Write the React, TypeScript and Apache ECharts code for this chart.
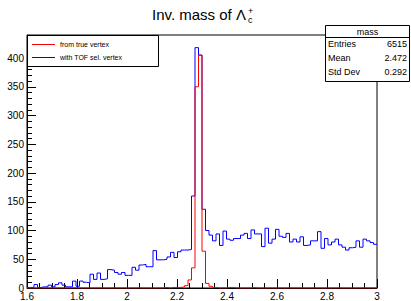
import React, { useEffect, useRef } from "react";
import * as echarts from "echarts";

// Histogram binning (100 bins from 1.6 to 3.0)
const binLow = 1.6;
const binWidth = 0.014;

// "with TOF sel. vertex" (blue)
const blueCounts = [
  1, 1, 6, 1, 2, 2, 5, 2, 6, 9,
  5, 2, 2, 12, 3, 12, 10, 9, 24, 15,
  26, 15, 16, 32, 31, 27, 24, 27, 22, 22,
  36, 31, 40, 41, 37, 37, 65, 49, 49, 50,
  54, 62, 53, 63, 66, 66, 67, 160, 418, 405,
  137, 100, 92, 82, 94, 74, 99, 85, 83, 86,
  86, 92, 95, 86, 101, 94, 94, 72, 104, 78,
  85, 102, 90, 88, 95, 80, 85, 80, 89, 74,
  75, 82, 82, 98, 69, 86, 75, 80, 85, 75,
  71, 66, 70, 71, 82, 71, 85, 82, 79, 76,
];

// "from true vertex" (red)
const redCounts = [
  0, 0, 0, 0, 0, 0, 0, 0, 0, 0,
  0, 0, 0, 0, 0, 0, 0, 0, 0, 0,
  0, 0, 0, 0, 0, 0, 0, 0, 0, 0,
  0, 0, 0, 0, 0, 0, 0, 0, 0, 1,
  0, 1, 1, 1, 2, 4, 14, 35, 350, 405,
  64, 8, 3, 1, 0, 0, 0, 1, 1, 0,
  0, 0, 0, 0, 1, 0, 0, 0, 0, 0,
  0, 0, 0, 0, 0, 0, 0, 0, 0, 0,
  0, 0, 0, 0, 0, 0, 0, 0, 0, 0,
  0, 0, 0, 0, 0, 0, 0, 0, 0, 0,
];

const legendLabels = ["from true vertex", "with TOF sel. vertex"];
const statsTitle = "mass";
const statsNames = ["Entries", "Mean", "Std Dev"];
const statsValues = ["6515", "2.472", "0.292"];

const xMin = 1.6;
const xMax = 3.0;
const xInterval = 0.2;
const yMin = 0;
const yMax = 440;
const yInterval = 50;

const FONT = "'Liberation Sans', Arial, Helvetica, sans-serif";

function toSteps(counts: number[]): number[][] {
  const pts: number[][] = [];
  for (let i = 0; i < counts.length; i++) {
    pts.push([binLow + i * binWidth, counts[i]]);
  }
  pts.push([binLow + counts.length * binWidth, counts[counts.length - 1]]);
  return pts;
}

export default function App() {
  const ref = useRef<HTMLDivElement>(null);

  useEffect(() => {
    if (!ref.current) return;
    const chart = echarts.init(ref.current, null, { renderer: "svg" });
    const gl = 27, gt = 35, gr = 377, gb = 289;

    const option: any = {
      animation: false,
      backgroundColor: "#ffffff",
      grid: {
        left: gl,
        top: gt,
        right: 411 - gr,
        bottom: 301 - gb,
        show: true,
        borderColor: "#000",
        borderWidth: 1,
        backgroundColor: "transparent",
      },
      xAxis: {
        type: "value",
        min: xMin,
        max: xMax,
        interval: xInterval,
        axisLine: { show: true, onZero: false, lineStyle: { color: "#000", width: 1 } },
        axisTick: { show: true, inside: true, length: 9, lineStyle: { color: "#000" } },
        minorTick: { show: true, splitNumber: 4, length: 5, lineStyle: { color: "#000" } },
        splitLine: { show: false },
        axisLabel: {
          margin: 3,
          fontSize: 10,
          fontFamily: FONT,
          color: "#000",
          formatter: (v: number) => String(Math.round(v * 10) / 10),
        },
      },
      yAxis: {
        type: "value",
        min: yMin,
        max: yMax,
        interval: yInterval,
        axisLine: { show: true, onZero: false, lineStyle: { color: "#000", width: 1 } },
        axisTick: { show: true, inside: true, length: 9, lineStyle: { color: "#000" } },
        minorTick: { show: true, splitNumber: 5, length: 5, lineStyle: { color: "#000" } },
        splitLine: { show: false },
        axisLabel: {
          margin: 3,
          fontSize: 10,
          fontFamily: FONT,
          color: "#000",
          formatter: (v: number) => (Math.round(v) % yInterval === 0 ? String(Math.round(v)) : ""),
        },
      },
      series: [
        {
          name: legendLabels[1],
          type: "line",
          step: "end",
          data: toSteps(blueCounts),
          showSymbol: false,
          symbol: "none",
          lineStyle: { color: "#0000ff", width: 1 },
          z: 3,
        },
        {
          name: legendLabels[0],
          type: "line",
          step: "end",
          data: toSteps(redCounts),
          showSymbol: false,
          symbol: "none",
          lineStyle: { color: "#ff0000", width: 1 },
          z: 4,
        },
      ],
      graphic: [
        // Title
        {
          type: "text",
          left: 152,
          top: 7,
          style: { text: "Inv. mass of Λ", font: `15px ${FONT}`, fill: "#000" },
          z: 10,
        },
        {
          type: "text",
          left: 248,
          top: 6,
          style: { text: "+", font: `9px ${FONT}`, fill: "#000" },
          z: 10,
        },
        {
          type: "text",
          left: 248,
          top: 15,
          style: { text: "c", font: `9px ${FONT}`, fill: "#000" },
          z: 10,
        },
        // Legend box
        {
          type: "rect",
          shape: { x: 27.5, y: 35.5, width: 131, height: 31 },
          style: { fill: "#fff", stroke: "#000", lineWidth: 1 },
          z: 10,
        },
        {
          type: "line",
          shape: { x1: 32, y1: 44.5, x2: 55, y2: 44.5 },
          style: { stroke: "#ff0000", lineWidth: 1 },
          z: 11,
        },
        {
          type: "text",
          x: 60,
          y: 44.5,
          style: { text: legendLabels[0], font: `7px ${FONT}`, fill: "#000", verticalAlign: "middle" },
          z: 11,
        },
        {
          type: "line",
          shape: { x1: 32, y1: 57.5, x2: 55, y2: 57.5 },
          style: { stroke: "#0000ff", lineWidth: 1 },
          z: 11,
        },
        {
          type: "text",
          x: 60,
          y: 57.5,
          style: { text: legendLabels[1], font: `7px ${FONT}`, fill: "#000", verticalAlign: "middle" },
          z: 11,
        },
        // Stats box
        {
          type: "rect",
          shape: { x: 325.5, y: 25.5, width: 84, height: 56 },
          style: { fill: "#fff", stroke: "#000", lineWidth: 1 },
          z: 10,
        },
        {
          type: "line",
          shape: { x1: 325.5, y1: 37.5, x2: 409.5, y2: 37.5 },
          style: { stroke: "#000", lineWidth: 1 },
          z: 11,
        },
        {
          type: "text",
          x: 367.5,
          y: 31.5,
          style: { text: statsTitle, font: `9px ${FONT}`, fill: "#000", align: "center", verticalAlign: "middle" },
          z: 11,
        },
        ...statsNames.map((n, i) => ({
          type: "text",
          x: 328,
          y: 44 + i * 14,
          style: { text: n, font: `9px ${FONT}`, fill: "#000", verticalAlign: "middle" },
          z: 11,
        })),
        ...statsValues.map((v, i) => ({
          type: "text",
          x: 407,
          y: 44 + i * 14,
          style: { text: v, font: `9px ${FONT}`, fill: "#000", align: "right", verticalAlign: "middle" },
          z: 11,
        })),
      ],
    };
    chart.setOption(option);
    return () => chart.dispose();
  }, []);

  return (
    <div
      ref={ref}
      style={{ position: "fixed", left: 0, top: 0, width: 411, height: 301, background: "#fff" }}
    />
  );
}
